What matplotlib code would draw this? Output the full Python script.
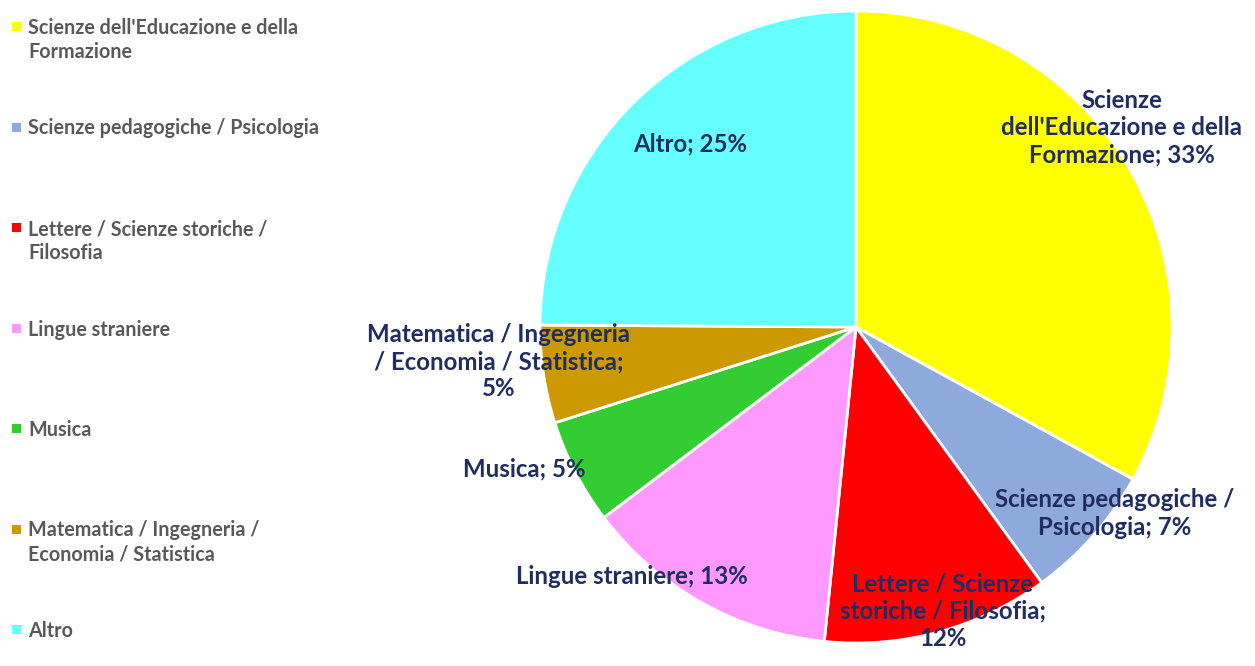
import numpy as np
import matplotlib.pyplot as plt
from matplotlib.patches import Rectangle

# data
categories = ["Scienze dell'Educazione e della\nFormazione",
              "Scienze pedagogiche / Psicologia",
              "Lettere / Scienze storiche /\nFilosofia",
              "Lingue straniere",
              "Musica",
              "Matematica / Ingegneria /\nEconomia / Statistica",
              "Altro"]
values = [33, 7, 11.6, 13.1, 5.4, 5, 24.9]
colors = ['#FFFF00', '#8EA9DB', '#FF0000', '#FF99FF', '#33CC33', '#CC9900', '#66FFFF']
label_text = ["Scienze\ndell'Educazione e della\nFormazione",
              "Scienze pedagogiche /\nPsicologia",
              "Lettere / Scienze\nstoriche / Filosofia;\n",
              "Lingue straniere",
              "Musica",
              "Matematica / Ingegneria\n/ Economia / Statistica;\n",
              "Altro"]
# where each data label sits (pie radius = 1)
label_pos = [(0.84, 0.63), (0.82, -0.59), (0.275, -0.90), (-0.71, -0.79),
             (-1.05, -0.45), (-1.13, -0.11), (-0.525, 0.58)]

plt.rcParams['font.family'] = ['Lato', 'DejaVu Sans']

fig = plt.figure(figsize=(12.55, 6.66), dpi=100)

ax = fig.add_axes([540/1255, 23/666, 632/1255, 632/666])
wedges, _ = ax.pie(values, colors=colors, startangle=90, counterclock=False,
                   wedgeprops=dict(edgecolor='white', linewidth=2))
ax.set_xlim(-1, 1)
ax.set_ylim(-1, 1)
ax.set_aspect('equal')
ax.axis('off')

total = sum(values)
for txt, v, (x, y) in zip(label_text, values, label_pos):
    pct = '%.0f%%' % (v / total * 100)
    if txt.endswith('\n'):
        s = txt + pct
    else:
        s = txt + '; ' + pct
    ax.text(x, y, s, ha='center', va='center', fontsize=17.3, fontweight='bold',
            color='#1F2D62', linespacing=1.22, clip_on=False)

# legend on the left, drawn in pixel units
lax = fig.add_axes([0, 0, 340/1255, 1])
lax.set_xlim(0, 340)
lax.set_ylim(666, 0)
lax.axis('off')
for i, (name, c) in enumerate(zip(categories, colors)):
    y0 = 27 + i * 100.5
    lax.add_patch(Rectangle((12, y0 - 5), 9, 9, facecolor=c, edgecolor='none'))
    lax.text(28, y0 - 9, name, ha='left', va='top', fontsize=14.2, fontweight='bold',
             color='#595959', linespacing=1.25)

fig.savefig('out.png', dpi=100)
